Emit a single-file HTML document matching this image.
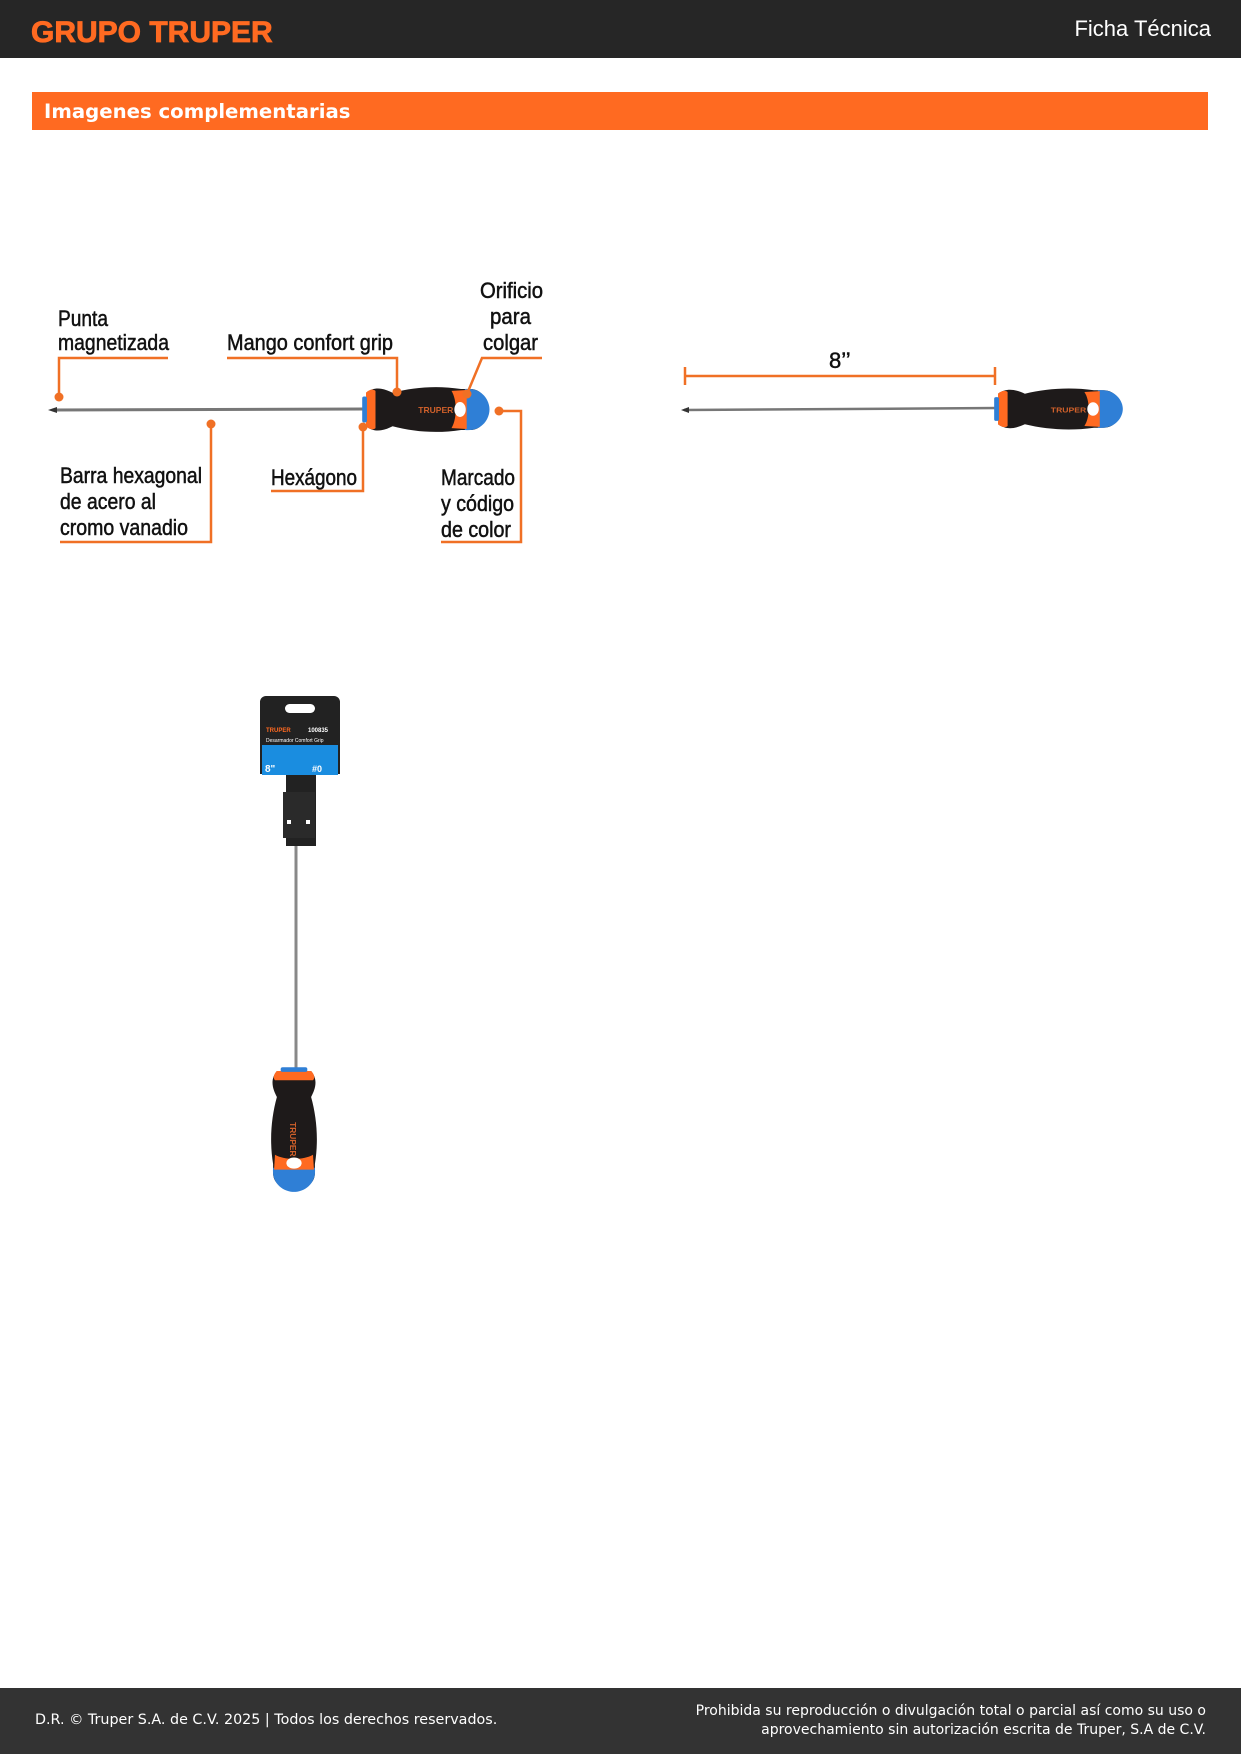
<!DOCTYPE html>
<html><head><meta charset="utf-8"><style>
body{margin:0;width:1241px;height:1754px;position:relative;background:#fff;font-family:"Liberation Sans",sans-serif;overflow:hidden}
.hdr{position:absolute;left:0;top:0;width:1241px;height:58px;background:#262626}
.logo{position:absolute;left:31px;top:16px;font-size:30px;font-weight:bold;color:#ff6a21;letter-spacing:0px;-webkit-text-stroke:0.8px #ff6a21}
.ft{position:absolute;right:30px;top:16px;font-size:22px;color:#fff}
.bar{position:absolute;left:32px;top:92px;width:1176px;height:38px;background:#ff6a21}
.bar span{position:absolute;left:12px;top:8px;color:#fff;font-weight:bold;font-size:19.7px;font-family:"DejaVu Sans",sans-serif}
.foot{position:absolute;left:0;top:1688px;width:1241px;height:66px;background:#333;color:#fff;font-family:"DejaVu Sans",sans-serif}
.fl{position:absolute;left:35px;top:24px;font-size:14.3px}
.fr{position:absolute;right:35px;top:14px;text-align:right;line-height:19px;font-size:14px}
svg{position:absolute;left:0;top:0}
.t{font-family:"Liberation Sans Narrow","Liberation Sans",sans-serif;font-size:22px;fill:#111;stroke:#111;stroke-width:0.5}
</style></head><body>
<div class="hdr"><div class="logo">GRUPO TRUPER</div><div class="ft">Ficha Técnica</div></div>
<div class="bar"><span>Imagenes complementarias</span></div>
<svg width="1241" height="1754" viewBox="0 0 1241 1754">
<defs>
<g id="hd">
<path d="M0,-18 C10,-26 20,-22 28,-18 C50,-24 75,-26 100,-22 L110,-22 C122,-22 128,-10 128,0 C128,10 122,22 110,22 L100,22 C75,26 50,24 28,18 C20,22 10,26 0,18 Z" fill="#1e1a1a"/>
<path d="M0,-18 C4,-22 8,-22 10,-20 L10,20 C8,22 4,22 0,18 Z" fill="#ff6a21"/>
<rect x="-4" y="-14" width="5" height="28" rx="2" fill="#2f7fd6"/>
<path d="M104,-22 C122,-24 130,-10 130,0 C130,10 122,24 104,22 Z" fill="#2f7fd6"/>
<path d="M90,-20 L106,-21 L106,21 L90,20 C96,10 96,-10 90,-20Z" fill="#ff6a21"/>
<ellipse cx="99" cy="0" rx="6" ry="8" fill="#fff"/>
<text x="55" y="4" font-size="9" fill="#d0602a" font-family="Liberation Sans" font-weight="bold">TRUPER</text>
</g>
</defs>
<!-- diagram 1 -->
<line x1="52" y1="410" x2="364" y2="409" stroke="#777" stroke-width="3"/>
<path d="M48,410 L57,407 L57,413Z" fill="#333"/>
<use href="#hd" transform="translate(366,409.5) scale(0.95,0.93)"/>
<g stroke="#f07025" stroke-width="2.5" fill="none">
<polyline points="59,397 59,358 168,358"/>
<polyline points="397,392 397,358 227,358"/>
<polyline points="467,394 482,358 542,358"/>
<polyline points="211,424 211,542 60,542"/>
<polyline points="363,427 363,491 271,491"/>
<polyline points="499,411 521,411 521,542 441,542"/>
</g>
<g fill="#f07025"><circle cx="59" cy="397" r="4.5"/><circle cx="397" cy="392" r="4.5"/><circle cx="467" cy="394" r="4.5"/><circle cx="211" cy="424" r="4.5"/><circle cx="363" cy="427" r="4.5"/><circle cx="499" cy="411" r="4.5"/></g>
<text class="t" x="58" y="326" textLength="50" lengthAdjust="spacingAndGlyphs">Punta</text>
<text class="t" x="58" y="350" textLength="111" lengthAdjust="spacingAndGlyphs">magnetizada</text>
<text class="t" x="227" y="350" textLength="166" lengthAdjust="spacingAndGlyphs">Mango confort grip</text>
<text class="t" x="480" y="298" textLength="63" lengthAdjust="spacingAndGlyphs">Orificio</text>
<text class="t" x="490" y="324" textLength="41" lengthAdjust="spacingAndGlyphs">para</text>
<text class="t" x="483" y="350" textLength="55" lengthAdjust="spacingAndGlyphs">colgar</text>
<text class="t" x="60" y="483" textLength="142" lengthAdjust="spacingAndGlyphs">Barra hexagonal</text>
<text class="t" x="60" y="509" textLength="96" lengthAdjust="spacingAndGlyphs">de acero al</text>
<text class="t" x="60" y="535" textLength="128" lengthAdjust="spacingAndGlyphs">cromo vanadio</text>
<text class="t" x="271" y="485" textLength="86" lengthAdjust="spacingAndGlyphs">Hexágono</text>
<text class="t" x="441" y="485" textLength="74" lengthAdjust="spacingAndGlyphs">Marcado</text>
<text class="t" x="441" y="511" textLength="73" lengthAdjust="spacingAndGlyphs">y código</text>
<text class="t" x="441" y="537" textLength="70" lengthAdjust="spacingAndGlyphs">de color</text>
<!-- diagram 2 -->
<g stroke="#f07025" stroke-width="2.5"><line x1="685" y1="376" x2="995" y2="376"/><line x1="685" y1="367" x2="685" y2="385"/><line x1="995" y1="367" x2="995" y2="385"/></g>
<text class="t" x="829" y="368">8’’</text>
<line x1="684" y1="410" x2="998" y2="408" stroke="#777" stroke-width="2.5"/>
<path d="M681,410 L689,407 L689,413Z" fill="#333"/>
<use href="#hd" transform="translate(998,409) scale(0.96,0.85)"/>
<!-- packaged -->
<line x1="296" y1="840" x2="296" y2="1074" stroke="#888" stroke-width="3"/>
<path d="M266,696 h68 a6,6 0 0 1 6,6 v72 h-24 v72 h-30 v-72 h-26 v-72 a6,6 0 0 1 6,-6z" fill="#222"/>
<rect x="285" y="704" width="30" height="9" rx="4.5" fill="#fff"/>
<rect x="262" y="745" width="76" height="30" fill="#1a8de0"/>
<text x="266" y="732" font-size="6" fill="#ff6a21" font-family="Liberation Sans" font-weight="bold">TRUPER</text>
<text x="308" y="732" font-size="6" fill="#fff" font-family="Liberation Sans" font-weight="bold">100835</text>
<text x="266" y="742" font-size="5" fill="#fff" font-family="Liberation Sans">Desarmador Comfort Grip</text>
<text x="265" y="772" font-size="10" fill="#fff" font-family="Liberation Sans" font-weight="bold">8"</text>
<text x="312" y="772" font-size="9" fill="#fff" font-family="Liberation Sans" font-weight="bold">#0</text>
<rect x="283" y="792" width="32" height="46" fill="#2a2a2a"/>
<rect x="287" y="820" width="4" height="4" fill="#fff"/><rect x="306" y="820" width="4" height="4" fill="#fff"/>
<use href="#hd" transform="translate(294,1071) rotate(90) scale(0.93,0.95)"/>
</svg>
<div class="foot"><div class="fl">D.R. © Truper S.A. de C.V. 2025 | Todos los derechos reservados.</div>
<div class="fr">Prohibida su reproducción o divulgación total o parcial así como su uso o<br>aprovechamiento sin autorización escrita de Truper, S.A de C.V.</div></div>
</body></html>
